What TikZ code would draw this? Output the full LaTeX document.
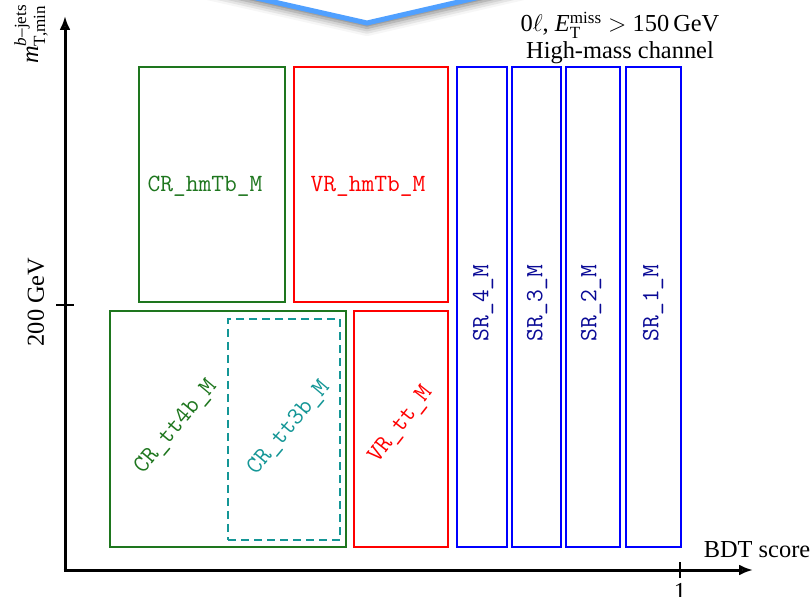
\documentclass[tikz,border=0pt]{standalone}
\usepackage{amsmath}
\usepackage{fontspec}
\setmainfont{Liberation Serif}
\usetikzlibrary{arrows.meta,fit,shadows.blur}

\definecolor{crgreen}{RGB}{30,118,30}
\definecolor{crteal}{RGB}{20,150,150}
\definecolor{vrred}{RGB}{255,0,0}
\definecolor{srblue}{RGB}{0,0,255}
\definecolor{srtext}{RGB}{10,10,150}
\definecolor{banner}{RGB}{80,160,255}

\begin{document}
\begin{tikzpicture}[x=0.5pt,y=-0.5pt,
  every node/.style={font=\fontsize{12.2}{14.6}\selectfont, inner sep=0pt},
  axis/.style={line width=1.5pt, -{Latex[length=7pt,width=5.5pt]}},
  tickmark/.style={line width=0.8pt},
  region/.style={draw, line width=1pt, inner sep=0pt, rectangle},
  lbl/.style={font=\fontsize{12.4}{14.6}\selectfont\ttfamily},
]
\useasboundingbox (0,0) rectangle (812,597);

% banner edge with soft shadow at the top
\path[fill=white, draw=banner, line width=2.5pt, line join=miter,
      blur shadow={shadow xshift=0pt, shadow yshift=-2.5pt, shadow blur radius=4pt, shadow opacity=55}]
  (88,-40) -- (367,23) -- (641,-40) -- cycle;

% axes
\coordinate (origin) at (65,570);
\coordinate (ytip) at (65,16);
\coordinate (xtip) at (753,570);
\draw[axis] (origin) -- (ytip);
\draw[axis] ([xshift=-0.75pt]origin) -- (xtip);
\coordinate (ytick) at (65,305);
\coordinate (xtick) at (680,570);
\draw[tickmark] ([xshift=-4.5pt]ytick) -- ([xshift=4.5pt]ytick);
\draw[tickmark] ([yshift=4pt]xtick) -- ([yshift=-4pt]xtick);

\node (ylab) [rotate=90] at (31,34) {\textit{m}$^{\textit{b}\text{–jets}}_{\text{T,min}}$};
\node (ycut) [rotate=90] at (36,302) {200 GeV};
\node (xlab) at (757,550) {BDT score};
\node (xone) at (680,591) {1};
\node (title) [align=center] at (620,38) {0$\ell$, \textit{E}$^{\text{miss}}_{\text{T}}$ $>$ 150\,GeV\\[-1pt]High-mass channel};

% regions above the 200 GeV cut
\node (crhm) [region, draw=crgreen, fit={(139,67) (285,302)}] {};
\node (vrhm) [region, draw=vrred, fit={(294,67) (448,302)}] {};
\node [lbl, text=crgreen] at (205,186) {CR\_hmTb\_M};
\node [lbl, text=vrred] at (368,186) {VR\_hmTb\_M};

% regions below the cut
\node (crtt4) [region, draw=crgreen, fit={(110,311) (346,547)}] {};
\node (crtt3) [region, draw=crteal, dashed, dash pattern=on 4pt off 2.5pt, fit={(228,319) (340,540)}] {};
\node (vrtt) [region, draw=vrred, fit={(354,311) (448,547)}] {};
\node [lbl, text=crgreen, rotate=50] at (176,427) {CR\_tt4b\_M};
\node [lbl, text=crteal, rotate=50] at (289,428) {CR\_tt3b\_M};
\node [lbl, text=vrred, rotate=52] at (401,425) {VR\_tt\_M};

% signal regions
\node (sr4) [region, draw=srblue, fit={(457,67) (507,547)}] {};
\node (sr3) [region, draw=srblue, fit={(512,67) (561,547)}] {};
\node (sr2) [region, draw=srblue, fit={(566,67) (620,547)}] {};
\node (sr1) [region, draw=srblue, fit={(626,67) (681,547)}] {};
\node [lbl, text=srtext, rotate=90] at (483,303) {SR\_4\_M};
\node [lbl, text=srtext, rotate=90] at (537,303) {SR\_3\_M};
\node [lbl, text=srtext, rotate=90] at (591,303) {SR\_2\_M};
\node [lbl, text=srtext, rotate=90] at (653,303) {SR\_1\_M};
\end{tikzpicture}
\end{document}
